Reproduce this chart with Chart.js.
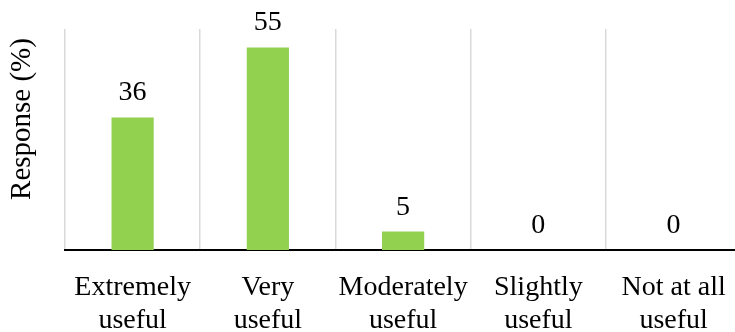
<!DOCTYPE html>
<html>
<head>
<meta charset="utf-8">
<script src="https://cdn.jsdelivr.net/npm/chart.js@4"></script>
<style>
html,body{margin:0;padding:0;background:#fff;overflow:hidden;width:735px;height:332px;}
#wrap{position:absolute;left:0;top:0;width:735px;height:332px;overflow:hidden;}
canvas{position:absolute;left:0;top:0;}
</style>
</head>
<body>
<div id="wrap"><canvas id="c" width="747" height="332"></canvas></div>
<script>
const categories = [["Extremely","useful"],["Very","useful"],["Moderately","useful"],["Slightly","useful"],["Not at all","useful"]];
const responses = [36, 55, 5, 0, 0];
const yAxisTitle = "Response (%)";
const yMin = 0;
const yMax = 60;

const FONT = "'Liberation Serif', 'Times New Roman', serif";

const valueLabels = {
  id: 'valueLabels',
  afterDatasetsDraw(chart) {
    const ctx = chart.ctx;
    const meta = chart.getDatasetMeta(0);
    ctx.save();
    ctx.fillStyle = '#000';
    ctx.font = "28px " + FONT;
    ctx.textAlign = 'center';
    ctx.textBaseline = 'alphabetic';
    meta.data.forEach((bar, i) => {
      ctx.fillText(String(chart.data.datasets[0].data[i]), bar.x, bar.y - 17);
    });
    ctx.restore();
  }
};

const yTitle = {
  id: 'yTitle',
  afterDraw(chart) {
    const ctx = chart.ctx;
    ctx.save();
    ctx.translate(22, 119);
    ctx.rotate(-Math.PI / 2);
    ctx.fillStyle = '#000';
    ctx.font = "29px " + FONT;
    ctx.textAlign = 'center';
    ctx.textBaseline = 'middle';
    ctx.fillText(yAxisTitle, 0, 0);
    ctx.restore();
  }
};

new Chart(document.getElementById('c'), {
  type: 'bar',
  data: {
    labels: categories,
    datasets: [{
      data: responses,
      backgroundColor: '#92D050',
      borderWidth: 0,
      categoryPercentage: 1,
      barPercentage: 0.312
    }]
  },
  options: {
    responsive: false,
    animation: false,
    devicePixelRatio: 1,
    layout: { padding: { left: 65, right: 3, top: 29, bottom: 0 } },
    plugins: { legend: { display: false }, tooltip: { enabled: false } },
    scales: {
      x: {
        grid: { display: true, color: '#d9d9d9', lineWidth: 1.5, drawTicks: false, offset: true },
        border: { display: true, color: '#000', width: 2 },
        ticks: { color: '#000', font: { family: FONT, size: 28, lineHeight: 1.18 }, padding: 21, maxRotation: 0, autoSkip: false },
        afterFit(scale) { scale.height = 82; }
      },
      y: {
        display: false,
        min: yMin,
        max: yMax
      }
    }
  },
  plugins: [valueLabels, yTitle]
});
</script>
</body>
</html>
